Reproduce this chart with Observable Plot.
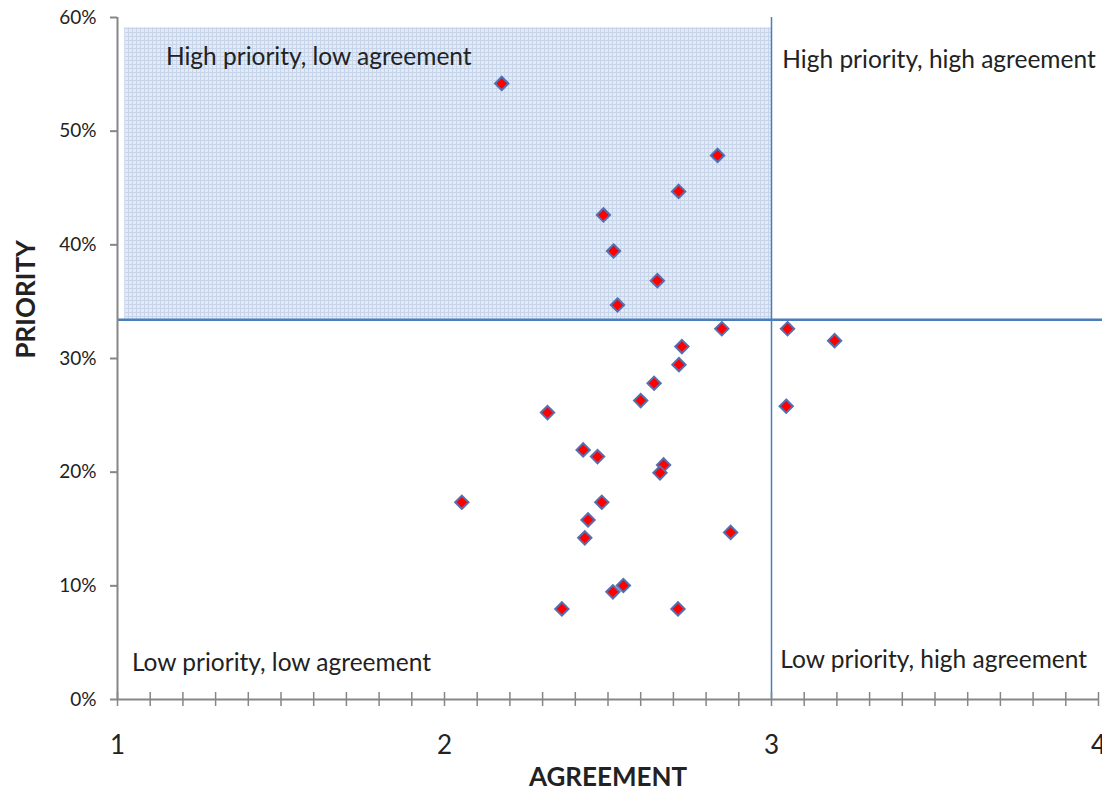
<!DOCTYPE html>
<html><head><meta charset="utf-8">
<script src="https://cdn.jsdelivr.net/npm/d3@7"></script>
<script src="https://cdn.jsdelivr.net/npm/@observablehq/plot@0.6"></script>
<style>body{margin:0;background:#fff}#chart{width:1102px;height:797px}</style>
</head><body><div id="chart"></div>
<script>
// Data
const agreement = [2.175, 2.835, 2.716, 2.486, 2.517, 2.651, 2.529, 2.848, 3.049, 3.193,
  2.726, 2.717, 2.641, 2.600, 2.315, 3.045, 2.424, 2.468, 2.670, 2.659,
  2.053, 2.481, 2.439, 2.875, 2.429, 2.547, 2.515, 2.359, 2.714];
const priority = [54.20, 47.87, 44.70, 42.63, 39.46, 36.85, 34.71, 32.62, 32.62, 31.57,
  31.05, 29.46, 27.82, 26.30, 25.24, 25.80, 21.96, 21.37, 20.64, 19.94,
  17.35, 17.35, 15.80, 14.70, 14.22, 10.03, 9.47, 7.97, 7.97];

const quadrantLabels = ["High priority, low agreement", "High priority, high agreement",
  "Low priority, low agreement", "Low priority, high agreement"];
const quadrantX = [1.148, 3.033, 1.044, 3.027];
const quadrantY = [56.55, 56.25, 3.2, 3.5];

const xTicks = [1, 2, 3, 4];
const xMinorTicks = d3.range(10, 41).map(d => d / 10);
const yTicks = [0, 10, 20, 30, 40, 50, 60];

const thresholdAgreement = [3];
const thresholdPriority = [33.4];
const shadeAgreement = [1.022, 3];
const shadePriority = [33.4, 59.1];
const lineExtent = [1, 4.014];

const points = agreement.map((a, i) => ({a, p: priority[i]}));
const labels = quadrantLabels.map((t, i) => ({t, x: quadrantX[i], y: quadrantY[i]}));
const shade = [{x1: shadeAgreement[0], x2: shadeAgreement[1], y1: shadePriority[0], y2: shadePriority[1]}];

const axisGray = "#868686";
const lineBlue = "#4a7ebb";
const textColor = "#222";

const plot = Plot.plot({
  width: 1102, height: 797,
  marginLeft: 117, marginRight: 4, marginTop: 17, marginBottom: 98,
  x: {domain: [1, 4]},
  y: {domain: [0, 60]},
  style: {fontFamily: "Lato, sans-serif", color: textColor, background: "#fff", overflow: "visible"},
  marks: [
    Plot.rect(shade, {x1: "x1", x2: "x2", y1: "y1", y2: "y2", fill: "url(#gridpat)"}),
    Plot.ruleY(thresholdPriority, {x1: lineExtent[0], x2: lineExtent[1], stroke: lineBlue, strokeWidth: 2.5}),
    Plot.ruleX(thresholdAgreement, {y1: 0, y2: 60, stroke: lineBlue, strokeWidth: 1.5}),
    Plot.ruleX([1], {y1: 0, y2: 60, stroke: axisGray, strokeWidth: 2}),
    Plot.ruleY([0], {x1: 1, x2: 4, stroke: axisGray, strokeWidth: 2}),
    Plot.ruleX(xMinorTicks, {x: d => d, y1: 0, y2: 0, insetTop: -7, insetBottom: -7, stroke: axisGray, strokeWidth: 1.5}),
    Plot.axisY(yTicks, {tickSize: 7, tickPadding: 14, tickFormat: d => d + "%", fontSize: 19, stroke: axisGray, strokeWidth: 2, fill: textColor, label: null}),
    Plot.axisX(xTicks, {tickSize: 0, tickPadding: 36, tickFormat: d3.format("d"), fontSize: 26, fill: textColor, label: null}),
    Plot.text(["AGREEMENT"], {frameAnchor: "bottom", dy: 86, fontSize: 26, fontWeight: "bold", fill: textColor}),
    Plot.text(["PRIORITY"], {frameAnchor: "left", rotate: -90, dx: -91, fontSize: 26, fontWeight: "bold", fill: textColor}),
    Plot.text(labels, {x: "x", y: "y", text: "t", textAnchor: "start", fontSize: 24.5, fill: textColor}),
    Plot.dot(points, {x: "a", y: "p", symbol: "diamond2", r: 6, fill: "#ff0000", stroke: "#5470b0", strokeWidth: 2})
  ]
});

const svg = d3.select(plot);
svg.insert("defs", ":first-child").html(
  `<pattern id="gridpat" patternUnits="userSpaceOnUse" width="4" height="4">
     <rect width="4" height="4" fill="#e3eaf5"/>
     <rect width="1" height="4" fill="#c6d5ea"/>
     <rect width="4" height="1" fill="#c6d5ea"/>
   </pattern>`);
document.getElementById("chart").appendChild(plot);
</script>
</body></html>
